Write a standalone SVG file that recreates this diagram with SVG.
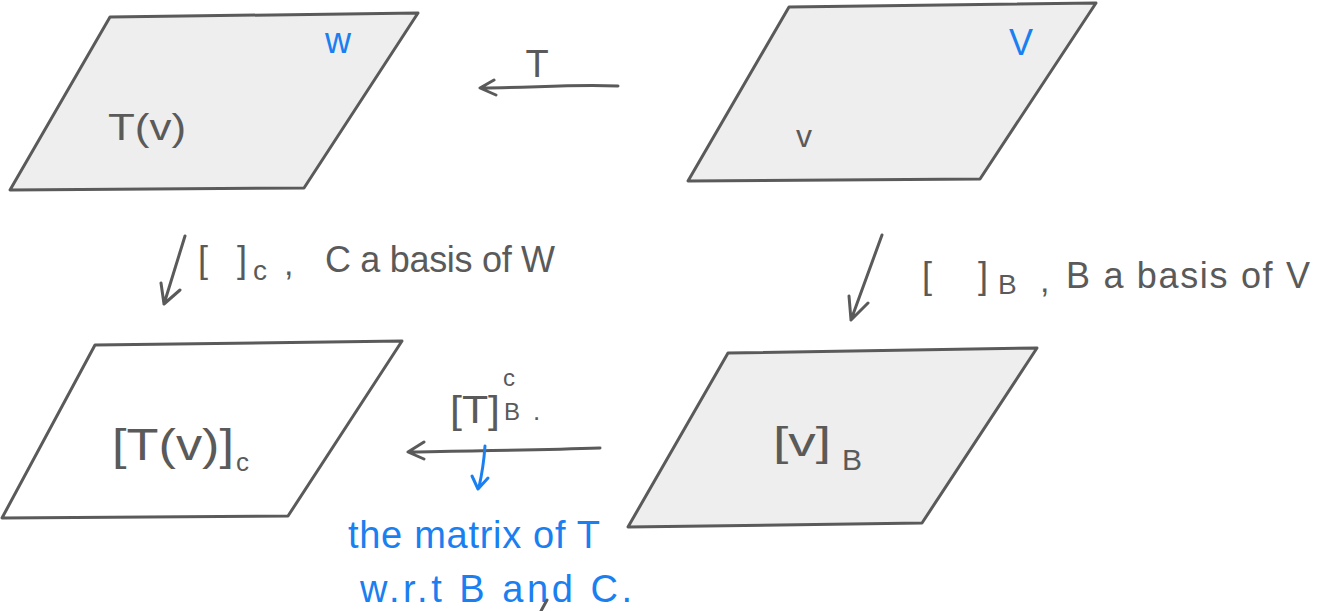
<svg xmlns="http://www.w3.org/2000/svg" width="1323" height="611" viewBox="0 0 1323 611">
<style>
.plane{stroke:#5a5a5a;stroke-width:3;stroke-linejoin:round}
.g{fill:#eeeeee}
.w{fill:#ffffff}
.t{font-family:"Liberation Sans",Arial,sans-serif;fill:#5a5a5a}
.b{font-family:"Liberation Sans",Arial,sans-serif;fill:#1a7ff0}
.ln{fill:none;stroke:#5a5a5a;stroke-width:3;stroke-linecap:round;stroke-linejoin:round}
.bl{fill:none;stroke:#1a7ff0;stroke-width:3;stroke-linecap:round;stroke-linejoin:round}
</style>
<rect width="1323" height="611" fill="#ffffff"/>
<g id="W">
<polygon class="plane g" points="110,17 418,13 304,188 10,190"/>
<text class="b" x="338" y="53" font-size="36" text-anchor="middle">w</text>
<text class="t" x="108" y="140" font-size="36" textLength="78" lengthAdjust="spacingAndGlyphs">T(v)</text>
</g>
<g id="V">
<polygon class="plane g" points="789,7 1096,3 980,179 688,181"/>
<text class="b" x="1021" y="55" font-size="36" text-anchor="middle">V</text>
<text class="t" x="804" y="147" font-size="32" text-anchor="middle">v</text>
</g>
<g id="Rm">
<polygon class="plane w" points="95,345 402,341 288,516 2,518"/>
<text class="t" x="112" y="460" font-size="44" textLength="122" lengthAdjust="spacingAndGlyphs">[T(v)]</text>
<text class="t" x="236" y="471" font-size="26">c</text>
</g>
<g id="Rn">
<polygon class="plane g" points="728,353 1037,348 922,523 628,527"/>
<text class="t" x="773" y="456" font-size="40" textLength="58" lengthAdjust="spacingAndGlyphs">[v]</text>
<text class="t" x="842" y="470" font-size="30">B</text>
</g>
<g id="connectors">
<path class="ln" d="M618,86 C570,84 530,88 482,88 M494,80 L480,88 L496,95"/>
<text class="t" x="537" y="77" font-size="38" text-anchor="middle">T</text>
<path class="ln" d="M185,236 L164,304 M161,283 L164,304 L180,290"/>
<text class="t" x="198" y="272" font-size="36" textLength="49" lengthAdjust="spacing">[ ]</text>
<text class="t" x="253" y="280" font-size="28">c</text>
<text class="t" x="284" y="275" font-size="34">,</text>
<text class="t" x="325" y="272" font-size="36" textLength="230" lengthAdjust="spacing">C a basis of W</text>
<path class="ln" d="M882,235 L851,320 M849,296 L851,320 L868,303"/>
<text class="t" x="922" y="288" font-size="36" textLength="66" lengthAdjust="spacing">[ ]</text>
<text class="t" x="998" y="294" font-size="28">B</text>
<text class="t" x="1040" y="292" font-size="34">,</text>
<text class="t" x="1066" y="288" font-size="36" textLength="244" lengthAdjust="spacing">B a basis of V</text>
<path class="ln" d="M600,448 C540,450 470,451 409,452 M424,442 L408,452 L424,459"/>
<text class="t" x="450" y="423" font-size="38" textLength="50" lengthAdjust="spacingAndGlyphs">[T]</text>
<text class="t" x="503" y="386" font-size="24">c</text>
<text class="t" x="504" y="420" font-size="24">B</text>
<text class="t" x="533" y="420" font-size="26">.</text>
<path class="bl" d="M485,446 C484,460 482,474 479,487 M472,476 L478,489 L488,478"/>
<text class="b" x="348" y="548" font-size="38" textLength="252" lengthAdjust="spacing">the matrix of T</text>
<text class="b" x="360" y="602" font-size="38" textLength="272" lengthAdjust="spacing">w.r.t B and C.</text>
<path class="ln" d="M547,600 L541,611"/>
</g>
</svg>
